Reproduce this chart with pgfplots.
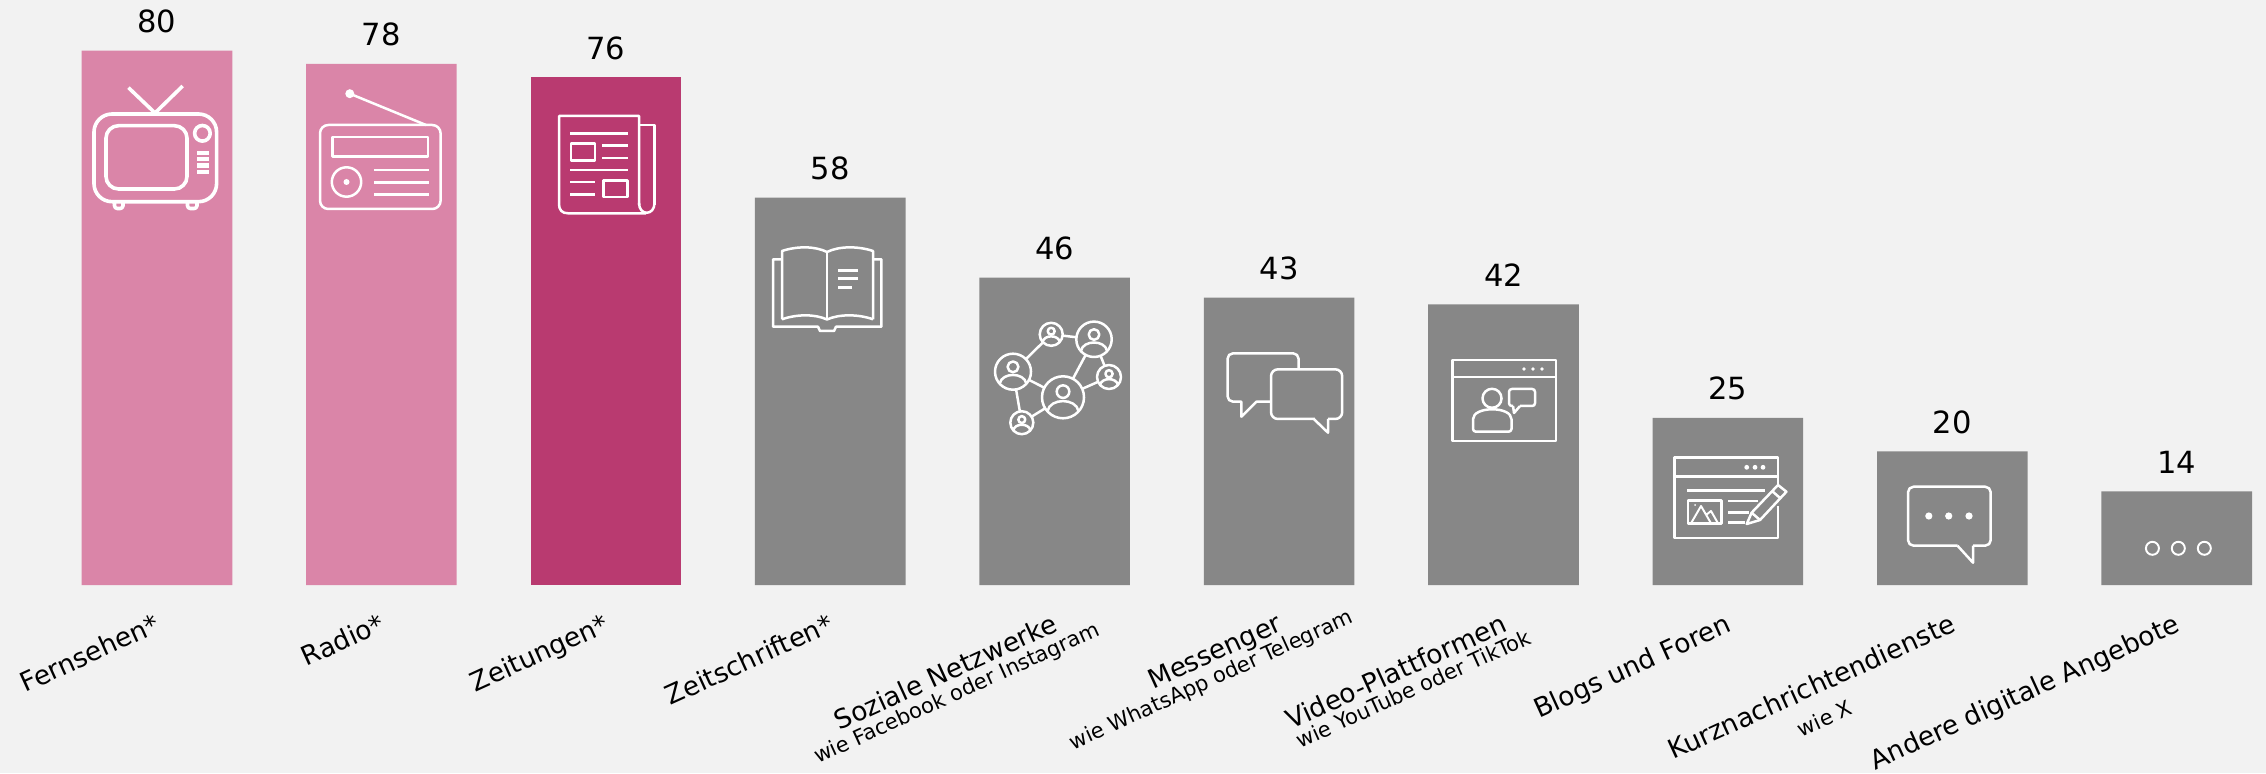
\documentclass[border=0pt]{standalone}
\usepackage{fontspec}
\setmainfont{DejaVu Sans}
\usepackage{pgfplots}
\pgfplotsset{compat=1.18}

\definecolor{bgc}{HTML}{F2F2F2}
\definecolor{pinkbar}{HTML}{DA85A8}
\definecolor{darkbar}{HTML}{B93A70}
\definecolor{graybar}{HTML}{878787}

% main line of the label decides the anchor, the sub line hangs below it
% #3 = kern that moves the sub line along the text, #4 = drop of its baseline
\newcommand{\twoline}[4]{\sbox0{#1}\usebox0\llap{\hbox to \wd0{\hss\smash{\raisebox{-#4}{\kern#3\fontsize{7.6pt}{9pt}\selectfont #2}}\hss}}}

% icon helpers, all in reference pixels
\newcommand{\person}[3]{%
  \fill[graybar] (#1,#2) circle (#3);
  \draw (#1,#2) circle (#3);
  \draw ({#1},{#2-0.27*#3}) circle ({0.3*#3});
  \draw ({#1-0.74*#3},{#2+0.66*#3}) .. controls ({#1-0.62*#3},{#2+0.02*#3}) and ({#1+0.62*#3},{#2+0.02*#3}) .. ({#1+0.74*#3},{#2+0.66*#3});
}

\begin{document}
\begin{tikzpicture}
\path[use as bounding box, fill=bgc] (0,-67.68pt) rectangle (815.76pt,210.6pt);
\begin{axis}[
    at={(0,0)},
    anchor=south west,
    scale only axis,
    width=815.76pt,
    height=210.6pt,
    ybar,
    bar width=54.2pt,
    bar shift=0pt,
    xmin=-0.6996, xmax=9.398,
    ymin=0, ymax=87.57,
    clip=false,
    axis x line=bottom,
    x axis line style={draw=none,-},
    hide y axis,
    xtick={0,...,9},
    major tick length=0pt,
    xticklabels={
        Fernsehen*,
        Radio*,
        Zeitungen*,
        Zeitschriften*,
        {\twoline{Soziale Netzwerke}{wie Facebook oder Instagram}{1pt}{7.6pt}},
        {\twoline{Messenger}{wie WhatsApp oder Telegram}{-10.8pt}{8pt}},
        {\twoline{Video-Plattformen}{wie YouTube oder TikTok}{6.2pt}{7.6pt}},
        Blogs und Foren,
        {\twoline{Kurznachrichtendienste}{wie X}{-0.8pt}{11.8pt}},
        Andere digitale Angebote
    },
    xticklabel style={rotate=24.5, anchor=north east, inner sep=0pt, xshift=-5pt, yshift=-8.3pt, font=\fontsize{9.5pt}{11pt}\selectfont},
    nodes near coords,
    /pgf/number format/assume math mode=true,
    nodes near coords style={font=\fontsize{11pt}{13pt}\selectfont, anchor=south, inner sep=0pt, yshift=6.2pt, text=black},
]
    \addplot[draw=none, fill=pinkbar] coordinates {(0,80) (1,78)};
    \addplot[draw=none, fill=darkbar] coordinates {(2,76)};
    \addplot[draw=none, fill=graybar] coordinates {
        (3,58) (4,46) (5,43) (6,42) (7,25) (8,20) (9,14)
    };
\end{axis}

\begin{scope}[shift={(0,210.6pt)}, x=0.36pt, y=-0.36pt, white, line width=0.9pt, line join=round]
    %% TV
    \begin{scope}[line width=1.3pt]
    \draw (128.5,87.7) -- (155,113) -- (182.7,86);
    \draw[rounded corners=6.5pt] (94,114) rectangle (216.6,201.7);
    \draw[rounded corners=4.5pt] (106,125.7) rectangle (187,189);
    \draw (202.4,133.3) circle (7.8);
    \fill (196.5,150.7) rectangle (209.3,155);
    \fill (196.5,157) rectangle (209.3,161);
    \fill (196.5,163) rectangle (209.3,167.7);
    \fill (196.5,169.7) rectangle (209.3,174.3);
    \draw[rounded corners=1pt] (114.5,201.7) -- (114.5,208.5) -- (123,208.5) -- (123,201.7);
    \draw[rounded corners=1pt] (187.5,201.7) -- (187.5,208.5) -- (197,208.5) -- (197,201.7);
    \end{scope}

    %% radio
    \fill (349.8,93.7) circle (4.5);
    \draw (349.8,93.7) -- (426,125);
    \draw[rounded corners=3pt] (320,125) rectangle (440.6,209);
    \draw (332.3,137) rectangle (427.8,156.7);
    \draw (346.5,182) circle (14.7);
    \fill (346.5,182) circle (3);
    \draw (374,170) -- (428.7,170) (374,182.3) -- (428.7,182.3) (374,194.3) -- (428.7,194.3);

    %% newspaper
    \draw (639,205) -- (639,116) -- (559,116) -- (559,204) .. controls (559,210) and (562,213.3) .. (568,213.3) -- (646,213.3);
    \draw (639,125) -- (654.5,125) -- (654.5,205);
    \draw (654.5,203) .. controls (654.5,216) and (639,216) .. (639,203);
    \draw (570,133.3) -- (628,133.3) (602,145.7) -- (628,145.7) (602,158) -- (628,158);
    \draw (570,170) -- (628,170) (570,182) -- (595,182) (570,194.7) -- (595,194.7);
    \draw (571,143.7) rectangle (595,160.3);
    \draw (603.6,180.3) rectangle (627.5,197);

    %% book
    \draw (782,259.3) -- (773,259.3) -- (773,326.7) -- (818,326.7) -- (820,331) -- (834,331) -- (836,326.7) -- (881.4,326.7) -- (881.4,259.3) -- (873,259.3);
    \draw (782,319.3) -- (782,251) .. controls (797,246) and (815,246) .. (827,252) .. controls (839,246) and (858,246) .. (873,251) -- (873,319.3);
    \draw (782,319.3) .. controls (797,314) and (815,314) .. (827,319.5) .. controls (839,314) and (858,314) .. (873,319.3);
    \draw (827,252) -- (827,319.5);
    \draw (838,270.3) -- (858.4,270.3) (838,278.7) -- (858.4,278.7) (838,287.3) -- (851.5,287.3);

    %% network
    \draw (1013,371.7) -- (1051.2,334.3) -- (1094,339.3) -- (1063,397.3) -- (1109,377) -- (1094,339.3);
    \draw (1013,371.7) -- (1063,397.3) -- (1021.8,422.7) -- cycle;
    \person{1013}{371.7}{18}
    \person{1051.2}{334.3}{11.5}
    \person{1094}{339.3}{17.7}
    \person{1063}{397.3}{21}
    \person{1109}{377}{12}
    \person{1021.8}{422.7}{11.5}

    %% chat bubbles
    \draw[rounded corners=2pt] (1298.6,369.3) -- (1298.6,353.3) -- (1227.5,353.3) -- (1227.5,401.7) -- (1234,401.7);
    \draw (1234,401.7) -- (1241.3,401.7) -- (1241.3,416.7) -- (1256.4,401.7) -- (1271,401.7);
    \draw[rounded corners=2.5pt] (1271,369.3) rectangle (1342.2,419);
    \fill[graybar] (1314.5,417) rectangle (1327.5,421);
    \draw (1313.8,419) -- (1328,432.7) -- (1328,419);

    %% video window
    \draw (1452.4,360) rectangle (1556.2,441);
    \draw (1452.4,377) -- (1556.2,377);
    \fill (1524,369) circle (1.9) (1533,369) circle (1.9) (1542,369) circle (1.9);
    \draw (1492,398.3) circle (9.5);
    \draw[rounded corners=1pt] (1473,431.7) -- (1473,422) .. controls (1473,406) and (1511.5,406) .. (1511.5,422) -- (1511.5,431.7) -- cycle;
    \draw[rounded corners=1pt] (1513,406) -- (1509,406) -- (1509,389) -- (1535,389) -- (1535,406) -- (1520,406);
    \draw (1513,406) -- (1514,413) -- (1520,406);

    %% blog window with pencil
    \draw (1778,485) -- (1778,457.3) -- (1674.3,457.3) -- (1674.3,538) -- (1778,538) -- (1778,506);
    \draw (1674.3,476.7) -- (1778,476.7);
    \fill (1746.7,467.3) circle (2.4) (1755,467.3) circle (2.4) (1763,467.3) circle (2.4);
    \draw (1687,490.7) -- (1765.4,490.7);
    \draw (1688,500.7) rectangle (1721.3,523.3);
    \draw[line width=0.7pt] (1691,523.3) -- (1701,506) -- (1711,523.3) (1706,515) -- (1711,511) -- (1718,523.3);
    \fill (1695,505) circle (1);
    \draw (1728,501) -- (1757.7,501) (1728,512.3) -- (1749,512.3) (1728,522.7) -- (1745,522.7);
    \draw[fill=graybar] (1746.7,524) -- (1751.6,512.7) -- (1778,485) -- (1786.4,491.7) -- (1760,520) -- cycle;
    \draw (1751.6,512.7) -- (1760,520) (1772,491) -- (1780,498);

    %% message bubble
    \draw[rounded corners=2pt] (1957.5,545.7) -- (1908,545.7) -- (1908,486.7) -- (1990.7,486.7) -- (1990.7,545.7) -- (1973,545.7);
    \draw (1957.5,545.7) -- (1973,562.7) -- (1973,545.7);
    \fill (1928.8,516) circle (3.6) (1948.7,516) circle (3.6) (1969,516) circle (3.6);

    %% other
    \draw[line width=0.7pt] (2152.4,548.3) circle (6.5) (2178.3,548.3) circle (6.5) (2204.3,548.3) circle (6.5);
\end{scope}
\end{tikzpicture}
\end{document}
